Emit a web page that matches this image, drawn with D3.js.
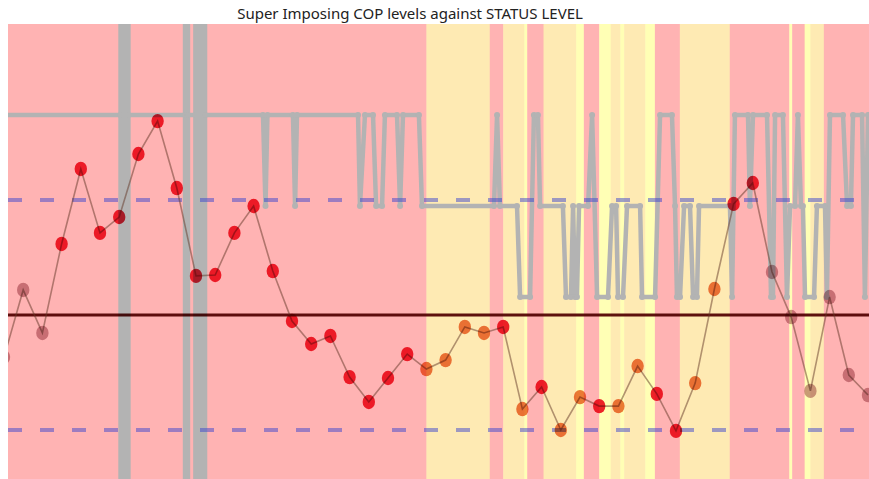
<!DOCTYPE html>
<html lang="en">
<head>
  <meta charset="utf-8">
  <title>COP levels against status level</title>
  <script src="https://d3js.org/d3.v7.min.js"></script>
  <style>
    body { margin: 0; background: #fff; }
  </style>
</head>
<body>
<script type="text/javascript">

  // COP readings, one every 10 samples
  var copValues = [2.817, 3.109, 2.922, 3.309, 3.635, 3.357, 3.426, 3.700, 3.843, 3.552,
                   3.170, 3.174, 3.357, 3.474, 3.191, 2.974, 2.874, 2.909, 2.730, 2.622,
                   2.726, 2.830, 2.765, 2.804, 2.948, 2.922, 2.948, 2.591, 2.687, 2.500,
                   2.643, 2.604, 2.604, 2.778, 2.657, 2.496, 2.704, 3.113, 3.483, 3.574,
                   3.187, 2.991, 2.670, 3.078, 2.739, 2.652];
  // status at each COP reading (r = red, o = amber, m = no status)
  var copStatus = ["m","m","m","r","r","r","r","r","r","r",
                   "r","r","r","r","r","r","r","r","r","r",
                   "r","r","o","o","o","o","r","o","r","o",
                   "o","r","o","o","r","r","o","o","r","r",
                   "m","m","m","m","m","m"];
  var copStep = 10;

  // COP limits
  var copTarget = 3.0;
  var copLimits = [3.5, 2.5];

  // background status bands (sample units)
  var bandStart  = [0,   220, 253, 260, 271,   272.5, 281, 298, 302, 310, 316, 321, 323, 334, 339, 352, 378, 409,   410.5, 417, 420, 427];
  var bandEnd    = [220, 253, 260, 271, 272.5, 281,   298, 302, 310, 316, 321, 323, 334, 339, 352, 378, 409, 410.5, 417,   420, 427, 452];
  var bandStatus = ["r", "a", "r", "a", "y",   "r",   "a", "y", "r", "y", "a", "y", "a", "y", "r", "a", "r", "y",   "r",   "y", "a", "r"];

  // status level trace (1 = low, 2 = mid, 3 = high, +/-200 = sensor fault, off scale)
  var statusT = [0, 60.7, 60.7, 60.7, 62, 62, 63.3, 63.3, 64.8, 64.8, 64.8,
                 94.3, 94.3, 94.3, 95.8, 95.8, 95.8,
                 99.7, 99.7, 99.7, 101, 101, 102.3, 102.3, 103.6, 103.6, 104.7, 104.7, 104.7,
                 134.9, 136.2, 137.2, 150.5, 151.6, 152.6,
                 184.4, 185.4, 188, 192.2, 193.8, 196.9, 198.4, 204.7, 206.3, 207.8, 216.1, 217.7,
                 255.2, 256.8, 258.3, 267.2, 268.8, 274, 276, 278.1, 279.2, 291.1, 292.7, 295.3,
                 296.4, 297.4, 298.4, 299.5, 304.2, 306.3, 308.9, 314.6, 316.7, 318.8, 319.8, 322.4,
                 324.5, 331.3, 332.3, 339.1, 341.7, 347.9, 349.5, 350.5, 352.1, 354.2, 357.3, 358.9,
                 360.9, 362, 378.1, 379.2, 380.7, 387.5, 388.5, 390.1, 397.4, 399.5, 400.5, 401.6,
                 405.7, 407.8, 409.4, 412, 413.5, 415.1, 416.1, 417.2, 421.9, 423.4, 427.6, 428.6,
                 430.2, 437, 439.1, 441.1, 442.2, 446.9, 448.4, 450, 452];
  var statusLevel = [3, 3, 200, -200, -200, 200, 200, -200, -200, 200, 3,
                     3, 200, -200, -200, 200, 3,
                     3, 200, -200, -200, 200, 200, -200, -200, 200, 200, -200, 3,
                     3, 2, 3, 3, 2, 3,
                     3, 2, 3, 3, 2, 2, 3, 3, 2, 3, 3, 2,
                     2, 3, 2, 2, 1, 1, 3, 3, 2, 2, 1, 1,
                     2, 1, 1, 2, 2, 3, 1, 1, 2, 2, 1, 1,
                     2, 2, 1, 1, 3, 3, 2, 1, 1, 2, 2, 1,
                     1, 2, 2, 1, 3, 3, 2, 3, 3, 1, 1, 3,
                     3, 1, 2, 2, 3, 2, 2, 1, 1, 2, 2, 1,
                     3, 3, 2, 2, 3, 3, 1, 3, 3];

  var svg_width = 869;
  var svg_height = 479;
  var plot = { left: 8, top: 24, right: 869, bottom: 479 };

  var bandColors = { r: "#ffb3b3", a: "#feeab3", y: "#ffffb5" };
  var pointColors = { r: "#ec2436", o: "#ea7a48", m: "#c89ca4" };

  var svg = d3.select("body")
              .append("svg")
              .attr("width", svg_width)
              .attr("height", svg_height)
              .style("font-family", "'Noto Sans', 'Open Sans', sans-serif");

  svg.append("defs").append("clipPath")
     .attr("id", "plotClip")
     .append("rect")
     .attr("x", plot.left)
     .attr("y", plot.top)
     .attr("width", plot.right - plot.left)
     .attr("height", plot.bottom - plot.top);

  // scales
  var xScale = d3.scaleLinear().domain([0, 450]).range([4, 868]);
  var yCop = d3.scaleLinear().domain([2.5, 3.5]).range([430, 200]);
  var yStatus = d3.scaleLinear().domain([1, 3]).range([297, 115]);

  var g = svg.append("g").attr("clip-path", "url(#plotClip)").style("isolation", "isolate");

  // background bands
  g.selectAll("rect.band")
   .data(bandStart)
   .enter()
     .append("rect")
     .attr("class", "band")
     .attr("x", function(d) { return xScale(d); })
     .attr("y", plot.top)
     .attr("width", function(d, i) { return xScale(bandEnd[i]) - xScale(d) + 0.5; })
     .attr("height", plot.bottom - plot.top)
     .attr("fill", function(d, i) { return bandColors[bandStatus[i]]; });

  // status level line
  var statusLine = d3.line()
                     .x(function(d) { return xScale(d); })
                     .y(function(d, i) { return yStatus(statusLevel[i]); });

  g.append("path")
   .datum(statusT)
   .attr("d", statusLine)
   .attr("fill", "none")
   .attr("stroke", "#b3b3b3")
   .attr("stroke-width", 4.5)
   .attr("stroke-linejoin", "round")
   .attr("stroke-linecap", "round");

  g.selectAll("circle.status")
   .data(statusT)
   .enter()
     .append("circle")
     .attr("class", "status")
     .attr("cx", function(d) { return xScale(d); })
     .attr("cy", function(d, i) { return yStatus(statusLevel[i]); })
     .attr("r", 3)
     .attr("fill", "#b3b3b3");

  // upper / lower COP limits
  g.selectAll("line.limit")
   .data(copLimits)
   .enter()
     .append("line")
     .attr("class", "limit")
     .attr("x1", plot.left)
     .attr("x2", plot.right)
     .attr("y1", function(d) { return yCop(d); })
     .attr("y2", function(d) { return yCop(d); })
     .attr("stroke", "rgba(60,70,205,0.5)")
     .attr("stroke-width", 4)
     .attr("stroke-dasharray", "14,18");

  // target COP
  g.append("line")
   .attr("x1", plot.left)
   .attr("x2", plot.right)
   .attr("y1", yCop(copTarget))
   .attr("y2", yCop(copTarget))
   .attr("stroke", "#5e1212")
   .attr("stroke-width", 3)
   .style("mix-blend-mode", "multiply");

  // COP line and points
  var copLine = d3.line()
                  .x(function(d, i) { return xScale(i * copStep); })
                  .y(function(d) { return yCop(d); });

  g.append("path")
   .datum(copValues)
   .attr("d", copLine)
   .attr("fill", "none")
   .attr("stroke", "rgba(100,55,40,0.5)")
   .attr("stroke-width", 1.6);

  g.selectAll("ellipse.cop")
   .data(copValues)
   .enter()
     .append("ellipse")
     .attr("class", "cop")
     .attr("cx", function(d, i) { return xScale(i * copStep); })
     .attr("cy", function(d) { return yCop(d); })
     .attr("rx", 6.2)
     .attr("ry", 7.2)
     .attr("fill", function(d, i) { return pointColors[copStatus[i]]; })
     .style("mix-blend-mode", "multiply");

  // title
  svg.append("text")
     .attr("x", 410)
     .attr("y", 19)
     .attr("text-anchor", "middle")
     .attr("font-size", "15px")
     .attr("fill", "#222")
     .text("Super Imposing COP levels against STATUS LEVEL");

</script>
</body>
</html>
